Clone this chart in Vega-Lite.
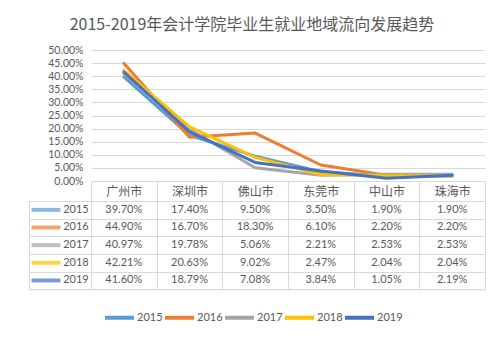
{
  "$schema": "https://vega.github.io/schema/vega-lite/v6.json",
  "padding": {"left": 28, "top": 17, "right": 5, "bottom": 5},
  "background": "white",
  "title": {"text": "2015-2019年会计学院毕业生就业地域流向发展趋势", "font": "Noto Sans CJK SC", "fontSize": 16, "fontWeight": "normal", "color": "#595959", "anchor": "middle", "offset": 12, "dx": -5},
  "datasets": {
    "d": [
      {"city": "广州市", "year": "2015", "value": 0.397},
      {"city": "深圳市", "year": "2015", "value": 0.174},
      {"city": "佛山市", "year": "2015", "value": 0.095},
      {"city": "东莞市", "year": "2015", "value": 0.035},
      {"city": "中山市", "year": "2015", "value": 0.019},
      {"city": "珠海市", "year": "2015", "value": 0.019},
      {"city": "广州市", "year": "2016", "value": 0.449},
      {"city": "深圳市", "year": "2016", "value": 0.167},
      {"city": "佛山市", "year": "2016", "value": 0.183},
      {"city": "东莞市", "year": "2016", "value": 0.061},
      {"city": "中山市", "year": "2016", "value": 0.022},
      {"city": "珠海市", "year": "2016", "value": 0.022},
      {"city": "广州市", "year": "2017", "value": 0.4097},
      {"city": "深圳市", "year": "2017", "value": 0.1978},
      {"city": "佛山市", "year": "2017", "value": 0.0506},
      {"city": "东莞市", "year": "2017", "value": 0.0221},
      {"city": "中山市", "year": "2017", "value": 0.0253},
      {"city": "珠海市", "year": "2017", "value": 0.0253},
      {"city": "广州市", "year": "2018", "value": 0.4221},
      {"city": "深圳市", "year": "2018", "value": 0.2063},
      {"city": "佛山市", "year": "2018", "value": 0.0902},
      {"city": "东莞市", "year": "2018", "value": 0.0247},
      {"city": "中山市", "year": "2018", "value": 0.0204},
      {"city": "珠海市", "year": "2018", "value": 0.0204},
      {"city": "广州市", "year": "2019", "value": 0.416},
      {"city": "深圳市", "year": "2019", "value": 0.1879},
      {"city": "佛山市", "year": "2019", "value": 0.0708},
      {"city": "东莞市", "year": "2019", "value": 0.0384},
      {"city": "中山市", "year": "2019", "value": 0.0105},
      {"city": "珠海市", "year": "2019", "value": 0.0219}
    ],
    "years": [{"year": "2015"}, {"year": "2016"}, {"year": "2017"}, {"year": "2018"}, {"year": "2019"}]
  },
  "columns": 2,
  "bounds": "flush",
  "spacing": {"row": 20, "column": 0},
  "concat": [
    {"width": 62, "height": 131, "data": {"values": []}, "mark": "point"},
    {
      "width": 394,
      "height": 131,
      "data": {"name": "d"},
      "mark": {"type": "line", "strokeWidth": 3, "strokeCap": "round", "strokeJoin": "round"},
      "encoding": {
        "x": {
          "field": "city", "type": "nominal",
          "sort": ["广州市", "深圳市", "佛山市", "东莞市", "中山市", "珠海市"],
          "scale": {"type": "band", "paddingInner": 0, "paddingOuter": 0},
          "axis": {"title": null, "orient": "bottom", "domain": false, "ticks": true, "tickBand": "extent", "tickSize": 20, "tickColor": "#D9D9D9", "tickWidth": 1, "labelAngle": 0, "labelFont": "Noto Sans CJK SC", "labelFontSize": 12, "labelColor": "#595959", "labelBaseline": "middle", "labelPadding": -10, "grid": false}
        },
        "y": {
          "field": "value", "type": "quantitative",
          "scale": {"domain": [0, 0.5], "nice": false},
          "axis": {"title": null, "values": [0, 0.05, 0.1, 0.15, 0.2, 0.25, 0.3, 0.35, 0.4, 0.45, 0.5], "format": ".2%", "domain": false, "ticks": false, "grid": true, "gridColor": "#D9D9D9", "labelFont": "Lato", "labelFontSize": 10.5, "labelColor": "#595959", "labelPadding": 8, "labelOverlap": false}
        },
        "color": {
          "field": "year", "type": "nominal",
          "scale": {"domain": ["2015", "2016", "2017", "2018", "2019"], "range": ["#5B9BD5", "#ED7D31", "#A5A5A5", "#FFC000", "#4472C4"]},
          "legend": {"orient": "none", "direction": "horizontal", "legendX": 74, "legendY": 251, "title": null, "symbolType": "stroke", "symbolSize": 841, "symbolStrokeWidth": 4, "labelFont": "Lato", "labelFontSize": 11, "labelColor": "#595959", "labelOffset": 1, "columnPadding": -9}
        }
      }
    },
    {
      "width": 62,
      "height": 88.3,
      "data": {"name": "years"},
      "view": {"stroke": "#D9D9D9"},
      "encoding": {
        "y": {
          "field": "year", "type": "nominal",
          "scale": {"type": "band", "domain": ["2015", "2016", "2017", "2018", "2019"], "paddingInner": 0, "paddingOuter": 0},
          "axis": {"title": null, "labels": false, "ticks": false, "domain": false, "grid": true, "tickBand": "extent", "gridColor": "#D9D9D9"}
        }
      },
      "layer": [
        {
          "mark": {"type": "tick", "orient": "horizontal", "thickness": 4, "size": 29},
          "encoding": {
            "x": {"datum": "line", "type": "nominal", "scale": {"type": "band", "domain": ["line", "label"], "paddingInner": 0, "paddingOuter": 0.0333, "align": 1}, "axis": null},
            "color": {"field": "year", "type": "nominal", "legend": null}
          }
        },
        {
          "mark": {"type": "text", "font": "Lato", "fontSize": 11, "color": "#595959"},
          "encoding": {
            "x": {"datum": "label", "type": "nominal"},
            "text": {"field": "year", "type": "nominal"}
          }
        }
      ]
    },
    {
      "width": 394,
      "height": 88.3,
      "data": {"name": "d"},
      "view": {"stroke": "#D9D9D9"},
      "mark": {"type": "text", "font": "Lato", "fontSize": 11, "color": "#595959"},
      "encoding": {
        "x": {
          "field": "city", "type": "nominal",
          "sort": ["广州市", "深圳市", "佛山市", "东莞市", "中山市", "珠海市"],
          "scale": {"type": "band", "paddingInner": 0, "paddingOuter": 0},
          "axis": {"title": null, "labels": false, "ticks": false, "domain": false, "grid": true, "tickBand": "extent", "gridColor": "#D9D9D9"}
        },
        "y": {
          "field": "year", "type": "nominal",
          "scale": {"type": "band", "domain": ["2015", "2016", "2017", "2018", "2019"], "paddingInner": 0, "paddingOuter": 0},
          "axis": {"title": null, "labels": false, "ticks": false, "domain": false, "grid": true, "tickBand": "extent", "gridColor": "#D9D9D9"}
        },
        "text": {"field": "value", "type": "quantitative", "format": ".2%"}
      }
    }
  ],
  "config": {"view": {"stroke": null}, "font": "Lato"}
}
